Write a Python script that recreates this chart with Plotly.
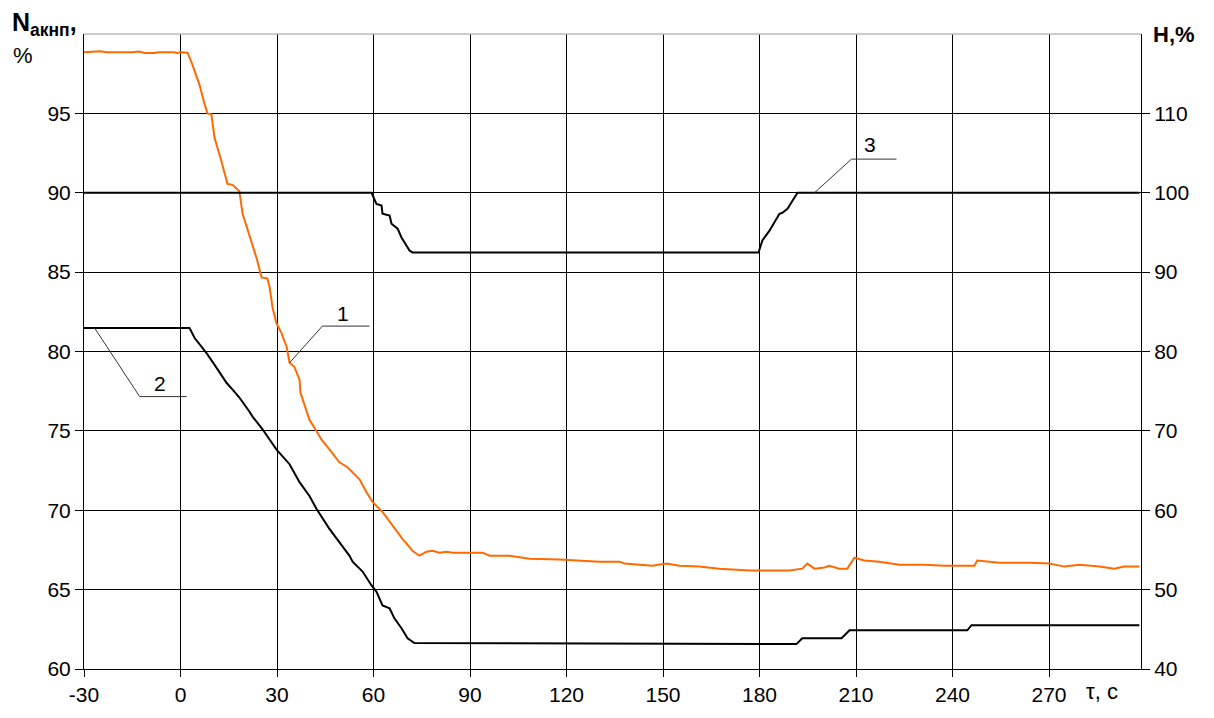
import plotly.graph_objects as go

# Curve 1 (orange): N_акнп, %  (left axis)
t1 = [-30, -27, -25, -23, -15, -13, -11, -8, -7, -2, -1, 0, 1.5, 2.2, 3.7, 5.0, 5.9, 7.5, 8.4, 9.6,
      10.6, 12.7, 14.6, 16.2, 18.3, 19.3, 20.5, 22.1, 23.6, 25.2, 27.0, 27.7, 28.6, 29.8, 31.4,
      33.0, 33.9, 35.4, 37.0, 37.3, 38.5, 40.1, 42.3, 43.8, 46.3, 49.4, 51.9, 54.1, 55.6, 57.8,
      59.7, 62.8, 65.9, 69.0, 70.3, 72.1, 73.4, 74.3, 76.5, 78.3, 80.5, 82.7, 84.6, 93.9, 96.1,
      102.3, 108.5, 117.8, 130.2, 136.5, 138, 146.7, 151.1, 155.1, 161.3, 167.5, 176.9, 189.3,
      193.3, 194.9, 197.1, 200.2, 201.7, 204.8, 207.3, 209.5, 212.6, 217.3, 223.5, 231.3, 237.5,
      246.8, 247.7, 254.6, 263.9, 270.1, 274.8, 279.5, 285.7, 290.3, 293.4, 298.1]
n1 = [98.85, 98.88, 98.92, 98.85, 98.85, 98.9, 98.8, 98.8, 98.85, 98.85, 98.8, 98.85, 98.85, 98.82,
      98.07, 97.3, 96.8, 95.57, 95.0, 94.94, 93.44, 92.0, 90.56, 90.5, 90.1, 88.68, 87.93, 86.99,
      85.92, 84.67, 84.6, 84.05, 82.79, 81.79, 81.16, 80.29, 79.29, 79.04, 78.22, 77.4, 76.66,
      75.7, 74.97, 74.46, 73.84, 73.02, 72.71, 72.27, 71.96, 71.15, 70.52, 69.89, 69.02, 68.2,
      67.9, 67.45, 67.26, 67.14, 67.39, 67.45, 67.33, 67.39, 67.33, 67.33, 67.14, 67.14, 66.95,
      66.89, 66.76, 66.76, 66.64, 66.5, 66.64, 66.5, 66.45, 66.32, 66.2, 66.2, 66.32, 66.64,
      66.32, 66.39, 66.5, 66.32, 66.32, 67.01, 66.83, 66.76, 66.57, 66.57, 66.51, 66.51, 66.83,
      66.7, 66.7, 66.64, 66.45, 66.57, 66.45, 66.32, 66.45, 66.45]

# Curve 2 (black): left axis
t2 = [-30, 2.8, 4.4, 8.1, 10.6, 14.3, 16.2, 18.3, 21.4, 22.4, 25.5, 27.7, 29.8, 33.9, 37.0, 40.1,
      42.3, 46.3, 49.4, 52.5, 53.5, 56.6, 59.4, 60.9, 62.8, 65.0, 66.5, 68.7, 70.6, 72.7, 191.5,
      193.3, 205.5, 208.0, 244.6, 245.9, 298.1]
n2 = [81.48, 81.48, 80.85, 79.9, 79.16, 78.03, 77.6, 77.1, 76.22, 75.9, 75.1, 74.46, 73.84, 72.9,
      71.77, 70.9, 70.08, 68.83, 68.0, 67.14, 66.76, 66.14, 65.26, 64.88, 64.0, 63.82, 63.19,
      62.57, 61.94, 61.63, 61.57, 61.94, 61.94, 62.44, 62.44, 62.76, 62.76]

# Curve 3 (black): H, %  (right axis)
t3 = [-30, 59.4, 60.9, 62.5, 62.8, 65.0, 65.6, 67.5, 68.7, 71.2, 72.1, 179.7, 180.9, 183.1, 186.2,
      187.1, 188.7, 190.9, 191.8, 298.1]
h3 = [100, 100, 98.6, 98.4, 97.36, 97.12, 96.1, 95.48, 94.36, 92.72, 92.48, 92.48, 93.98, 95.22,
      97.36, 97.48, 97.98, 99.36, 100, 100]

x_ticks = [-30, 0, 30, 60, 90, 120, 150, 180, 210, 240, 270]
y_ticks = [60, 65, 70, 75, 80, 85, 90, 95]
y2_ticks = [40, 50, 60, 70, 80, 90, 100, 110]

FONT = "Liberation Sans, Arial, sans-serif"

fig = go.Figure()
fig.add_trace(go.Scatter(x=t1, y=n1, mode="lines", line=dict(color="#FF6A00", width=2),
                         showlegend=False, hoverinfo="skip"))
fig.add_trace(go.Scatter(x=t2, y=n2, mode="lines", line=dict(color="#000000", width=2),
                         showlegend=False, hoverinfo="skip"))
fig.add_trace(go.Scatter(x=t3, y=h3, mode="lines", line=dict(color="#000000", width=2),
                         yaxis="y2", showlegend=False, hoverinfo="skip"))

# leader lines for curve labels
leaders = [
    [(33.9, 79.29), (44.1, 81.6), (58.75, 81.6)],
    [(-26.7, 81.48), (-12.7, 77.16), (1.9, 77.16)],
    [(197.1, 90.0), (208.6, 92.12), (222.6, 92.12)],
]
for pts in leaders:
    for (xa, ya), (xb, yb) in zip(pts[:-1], pts[1:]):
        fig.add_shape(type="line", x0=xa, y0=ya, x1=xb, y1=yb, xref="x", yref="y",
                      line=dict(color="#333333", width=1))

labels = [("1", 50.4, 82.4), ("2", -6.5, 78.0), ("3", 214.2, 93.06)]
annotations = []
for txt, xx, yy in labels:
    annotations.append(dict(text=txt, x=xx, y=yy, xref="x", yref="y", showarrow=False,
                            font=dict(size=21, color="#000", family=FONT)))

annotations.append(dict(text="<b>N<sub>акнп</sub>,</b>", xref="paper", yref="paper",
                        x=0, y=1, xshift=-74, yshift=10, xanchor="left", yanchor="middle",
                        align="left", showarrow=False,
                        font=dict(size=25, color="#000", family=FONT)))
annotations.append(dict(text="%", xref="paper", yref="paper",
                        x=0, y=1, xshift=-73, yshift=-21, xanchor="left", yanchor="middle",
                        align="left", showarrow=False,
                        font=dict(size=22, color="#000", family=FONT)))
annotations.append(dict(text="<b>H,%</b>", xref="paper", yref="paper", x=1, y=1,
                        xshift=10, yshift=0, xanchor="left", yanchor="middle",
                        showarrow=False, font=dict(size=22, color="#000", family=FONT)))
annotations.append(dict(text="τ, с", xref="x", yref="paper", x=281, y=0, yshift=-22,
                        xanchor="left", yanchor="middle", showarrow=False,
                        font=dict(size=22, color="#000", family=FONT)))

# top border (light gray)
fig.add_shape(type="line", xref="paper", yref="paper", x0=0, x1=1, y0=1, y1=1,
              line=dict(color="#BBBBBB", width=1.5))

fig.update_layout(
    width=1214, height=718,
    margin=dict(l=84, r=73, t=34, b=47),
    paper_bgcolor="white", plot_bgcolor="white",
    font=dict(family=FONT, size=21, color="#000"),
    annotations=annotations,
    xaxis=dict(range=[-30, 298.6], tickvals=x_ticks, ticktext=[str(v) for v in x_ticks],
               showgrid=True, gridcolor="#000000", gridwidth=1, zeroline=False,
               showline=True, linecolor="#000000", linewidth=1,
               ticks="outside", ticklen=7, tickcolor="#000", tickfont=dict(size=21)),
    yaxis=dict(range=[60, 100], tickvals=y_ticks, ticktext=[str(v) for v in y_ticks],
               showgrid=True, gridcolor="#000000", gridwidth=1, zeroline=False,
               showline=True, linecolor="#000000", linewidth=1,
               ticks="outside", ticklen=8, tickcolor="#000", tickfont=dict(size=21)),
    yaxis2=dict(range=[40, 120], tickvals=y2_ticks, ticktext=[str(v) for v in y2_ticks],
                overlaying="y", side="right", showgrid=False, zeroline=False,
                showline=True, linecolor="#000000", linewidth=1,
                ticks="outside", ticklen=8, tickcolor="#000", tickfont=dict(size=21)),
)

fig.write_html("out.html")
